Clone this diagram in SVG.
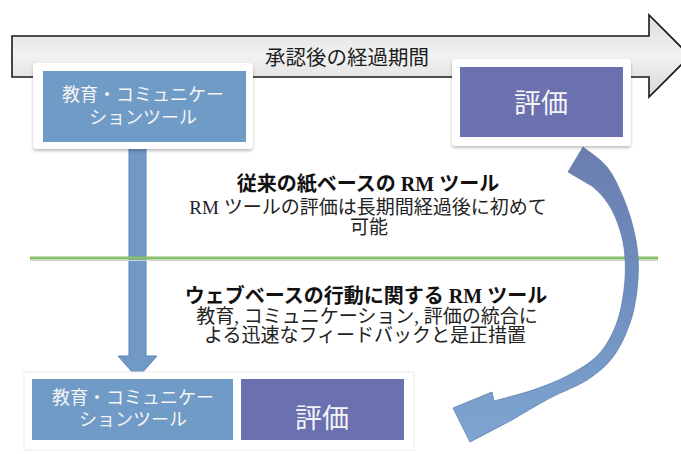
<svg xmlns="http://www.w3.org/2000/svg" width="681" height="454" viewBox="0 0 681 454">
<defs>
<linearGradient id="gArrow" x1="0" y1="0" x2="0" y2="1">
<stop offset="0" stop-color="#dcdcdc"/>
<stop offset="0.5" stop-color="#f2f2f2"/>
<stop offset="1" stop-color="#d6d6d6"/>
</linearGradient>
<linearGradient id="gCurve" x1="0" y1="0" x2="0" y2="1">
<stop offset="0" stop-color="#6a7eae"/>
<stop offset="0.5" stop-color="#6f8fc0"/>
<stop offset="1" stop-color="#7ea6d1"/>
</linearGradient>
<filter id="shadow" x="-10%" y="-10%" width="120%" height="130%">
<feDropShadow dx="0" dy="2" stdDeviation="1.5" flood-color="#000" flood-opacity="0.25"/>
</filter>
</defs>
<style>
text { font-family: 'Liberation Serif', 'Noto Sans CJK JP', serif; }
.dark { fill: #1e1e1e; }
.title { font-size: 20px; font-weight: bold; fill: #111; text-anchor: middle; }
.body { font-size: 19px; fill: #222; text-anchor: middle; }
.btxt { font-size: 18px; fill: #f4f4f4; text-anchor: middle; }
.eval { font-size: 27px; fill: #f4f4f4; text-anchor: middle; }
.frame { fill: #ffffff; filter: url(#shadow); }
.blue { fill: #719bc7; }
.purple { fill: #6b70b0; }
</style>
<rect x="0" y="0" width="681" height="454" fill="#ffffff"/>

<g id="timeline">
<polygon points="12,36 649,36 649,15 690,56 649,97 649,77 12,77" fill="url(#gArrow)" stroke="#1a1a1a" stroke-width="1.6" stroke-linejoin="miter"/>
<text x="347" y="65" class="dark" font-size="20.5" text-anchor="middle">承認後の経過期間</text>
</g>

<g id="connectors">
<g id="down-arrow">
<polygon points="129,145 146,145 146,356 157,356 137.5,378 118,356 129,356" fill="#7199c5" stroke="#5a84b4" stroke-width="1"/>
</g>
<line id="divider" x1="30" y1="258" x2="658" y2="258" stroke="#86c06a" stroke-width="3"/>
<line x1="30" y1="260.5" x2="658" y2="260.5" stroke="#d4d4d4" stroke-width="1"/>
<path id="curved-arrow" d="M 583,147 C 587,150.3 600.3,158.7 607,167 C 613.7,175.3 618.7,187 623,197 C 627.3,207 630.5,217 633,227 C 635.5,237 637.3,246.5 638,257 C 638.7,267.5 638.3,279 637,290 C 635.7,301 634,311.8 630,323 C 626,334.2 620.2,347.5 613,357 C 605.8,366.5 597.5,373.2 587,380 C 576.5,386.8 562.5,391.3 550,398 C 537.5,404.7 518.3,416.3 512,420 L 470,442 L 453,408 L 492,392 L 494,401 C 500.5,399.2 520.8,394.2 533,390 C 545.2,385.8 556.2,381.8 567,376 C 577.8,370.2 589.8,363.5 598,355 C 606.2,346.5 611.7,335.8 616,325 C 620.3,314.2 622.5,301.3 624,290 C 625.5,278.7 625.7,267 625,257 C 624.3,247 622.7,238.7 620,230 C 617.3,221.3 613.7,212.3 609,205 C 604.3,197.7 598.8,191.5 592,186 C 582.2,180.5 572,174.3 568,172 Z" fill="url(#gCurve)" stroke="#5f7fb0" stroke-width="0.8"/>
</g>

<g id="top-edu">
<rect x="33" y="63" width="220" height="86" rx="4" class="frame"/>
<rect x="43" y="71" width="203" height="71" class="blue"/>
<text x="143" y="101" class="btxt">教育・コミュニケー</text>
<text x="143" y="124" class="btxt">ションツール</text>
</g>

<g id="top-eval">
<rect x="452" y="59" width="179" height="87" rx="4" class="frame"/>
<rect x="460" y="67" width="163" height="70" class="purple"/>
<text x="541" y="113" class="eval">評価</text>
</g>

<g id="paper-text">
<text x="368" y="191" class="title">従来の紙ベースの RM ツール</text>
<text x="368" y="213.5" class="body">RM ツールの評価は長期間経過後に初めて</text>
<text x="369" y="233.5" class="body">可能</text>
</g>

<g id="web-text">
<text x="366" y="303" class="title">ウェブベースの行動に関する RM ツール</text>
<text x="367" y="322.5" class="body">教育, コミュニケーション, 評価の統合に</text>
<text x="365" y="342" class="body">よる迅速なフィードバックと是正措置</text>
</g>

<g id="bottom-frame">
<rect x="24" y="372" width="390" height="78" fill="#ffffff" stroke="#ebebeb" stroke-width="1"/>
</g>

<g id="bottom-edu">
<rect x="32" y="379" width="201" height="61" class="blue"/>
<text x="133" y="404" class="btxt">教育・コミュニケー</text>
<text x="133" y="426" class="btxt">ションツール</text>
</g>

<g id="bottom-eval">
<rect x="241" y="379" width="163" height="61" class="purple"/>
<text x="322" y="428" class="eval">評価</text>
</g>
</svg>
